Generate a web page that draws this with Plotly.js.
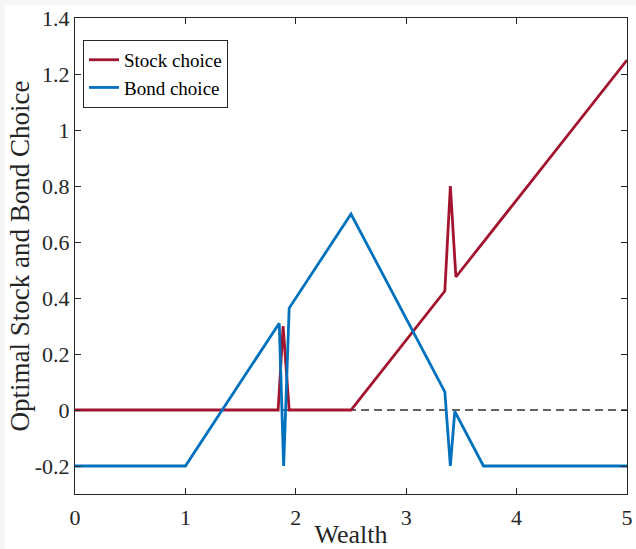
<!DOCTYPE html>
<html>
<head>
<meta charset="utf-8">
<script src="https://cdn.plot.ly/plotly-3.0.1.min.js"></script>
<style>
html,body{margin:0;padding:0;background:#f6f6f6;}
#chart{position:absolute;left:5px;top:5px;width:631px;height:544px;background:#fff;}
</style>
</head>
<body>
<div id="chart"></div>
<script>
// Data
var stockX = [0, 1.84, 1.885, 1.94, 2.5, 3.35, 3.40, 3.45, 5];
var stockY = [0, 0, 0.30, 0, 0, 0.425, 0.80, 0.475, 1.25];
var bondX = [0, 1.0, 1.85, 1.89, 1.94, 2.5, 3.35, 3.40, 3.44, 3.70, 5];
var bondY = [-0.2, -0.2, 0.31, -0.2, 0.364, 0.70, 0.065, -0.2, -0.005, -0.2, -0.2];
var zeroX = [0, 5];
var zeroY = [0, 0];
var xTickVals = [0, 1, 2, 3, 4, 5];
var xTickText = ['0', '1', '2', '3', '4', '5'];
var yTickVals = [-0.2, 0, 0.2, 0.4, 0.6, 0.8, 1, 1.2, 1.4];
var yTickText = ['-0.2', '0', '0.2', '0.4', '0.6', '0.8', '1', '1.2', '1.4'];

var serif = 'Liberation Serif, Times New Roman, serif';
var traces = [
  {x: zeroX, y: zeroY, mode: 'lines', showlegend: false, hoverinfo: 'skip',
   line: {color: '#303030', width: 1.3, dash: '8px,5px'}},
  {x: stockX, y: stockY, mode: 'lines', name: 'Stock choice',
   line: {color: '#A2142F', width: 2.8}},
  {x: bondX, y: bondY, mode: 'lines', name: 'Bond choice',
   line: {color: '#0072BD', width: 2.8}}
];
var axisCommon = {
  showgrid: false, zeroline: false, showline: true, linecolor: '#262626', linewidth: 1,
  mirror: 'allticks', ticks: 'inside', ticklen: 6, tickcolor: '#262626',
  tickfont: {family: serif, size: 22, color: '#262626'}
};
var layout = {
  width: 631, height: 544,
  margin: {l: 70, r: 9, t: 13, b: 55},
  paper_bgcolor: '#ffffff', plot_bgcolor: '#ffffff',
  xaxis: Object.assign({}, axisCommon, {
    range: [0, 5], tickvals: xTickVals, ticktext: xTickText, ticklabelstandoff: 4,
    title: {text: 'Wealth', font: {family: serif, size: 26, color: '#262626'}, standoff: 2}
  }),
  yaxis: Object.assign({}, axisCommon, {
    range: [-0.3, 1.4], tickvals: yTickVals, ticktext: yTickText,
    title: {text: 'Optimal Stock and Bond Choice', font: {family: serif, size: 27, color: '#262626'}, standoff: 6}
  }),
  legend: {
    x: 0.0145, y: 0.954, xanchor: 'left', yanchor: 'top',
    bgcolor: '#ffffff', bordercolor: '#262626', borderwidth: 1,
    font: {family: serif, size: 19, color: '#000'},
    tracegroupgap: 0, itemwidth: 30
  },
  showlegend: true
};
Plotly.newPlot('chart', traces, layout, {displayModeBar: false, staticPlot: true});
</script>
</body>
</html>
